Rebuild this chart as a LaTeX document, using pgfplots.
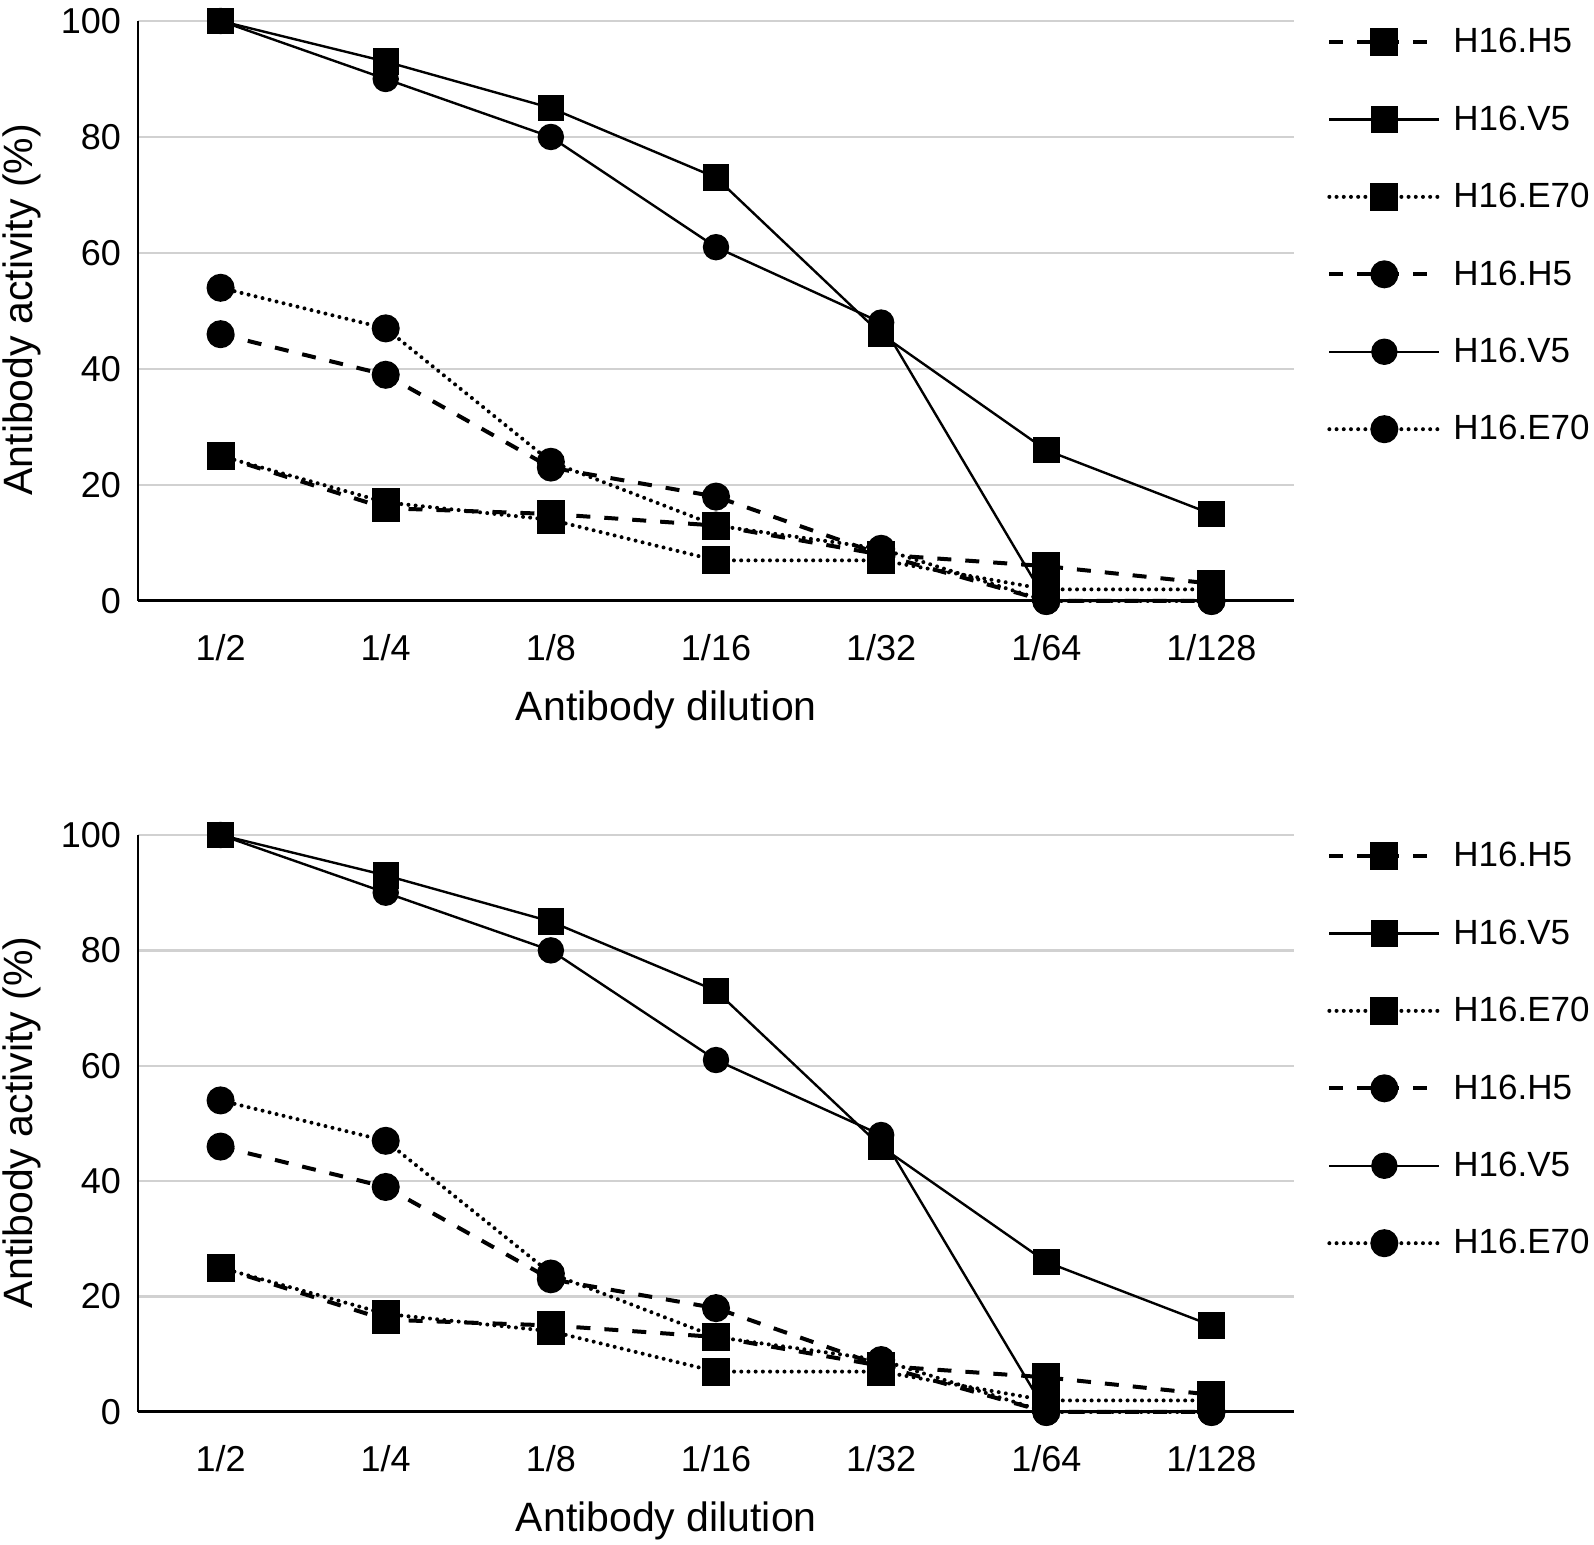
\documentclass[border=0pt]{standalone}
\usepackage{fontspec}
\setmainfont{Liberation Sans}
\usepackage{pgfplots}
\usepackage{pgfplotstable}
\pgfplotsset{compat=1.18}

\pgfplotstableread{
x sqH sqV sqE ciH ciV ciE
0 25 100 25 46 100 54
1 16 93 17 39 90 47
2 15 85 14 23 80 24
3 13 73 7 18 61 13
4 8 46 7 8 48 9
5 6 26 2 0 0 0
6 3 15 2 0 0 0
}\data

\pgfplotsset{
  panel/.style={
    scale only axis, width=578pt, height=290pt, anchor=south west,
    xmin=-0.5, xmax=6.5, ymin=0, ymax=100,
    xtick={0,...,6}, xticklabels={1/2,1/4,1/8,1/16,1/32,1/64,1/128},
    ytick={0,20,...,100},
    axis x line*=bottom, axis y line*=left,
    x axis line style={line width=1.5pt},
    y axis line style={line width=1pt},
    major tick length=0pt,
    ymajorgrids, major grid style={black!18, line width=1.2pt},
    clip=false,
    tick label style={font=\fontsize{18}{21}\selectfont},
    /pgf/number format/assume math mode=true,
    xticklabel style={yshift=-13pt},
    yticklabel style={xshift=-5pt},
    xlabel={Antibody dilution}, ylabel={Antibody activity (\%)},
    label style={font=\fontsize{20.5}{24}\selectfont},
    xlabel style={at={(axis description cs:0.457,-0.188)}, anchor=center},
    ylabel style={at={(axis description cs:-0.1003,0.502)}, anchor=center},
    legend style={draw=none, fill=none, inner sep=0pt,
      at={(axis description cs:1.0285,0.995)}, anchor=north west,
      font=\fontsize{17.5}{21}\selectfont, row sep=21pt, column sep=4pt},
    legend cell align=left,
    legend image code/.code={\draw[mark repeat=2,mark phase=2,##1] plot coordinates {(0pt,0pt)(27.5pt,0pt)(55pt,0pt)};},
  },
  dsh/.style={black, line width=2pt, dash pattern=on 7pt off 7pt},
  sld/.style={black, line width=1.2pt, solid},
  dtt/.style={black, line width=2pt, line cap=round, dash pattern=on 0pt off 3.6pt},
  sq/.style={mark=square*, mark size=6pt, mark options={solid, fill=black}},
  ci/.style={mark=*, mark size=6pt, mark options={solid, fill=black}},
}

\begin{document}
\begin{tikzpicture}
\useasboundingbox (0,0) rectangle (797pt,772.5pt);
\begin{axis}[panel, at={(69pt,472pt)}]
  \addplot[dsh, sq] table[x=x, y=sqH] {\data}; \addlegendentry{H16.H5}
  \addplot[sld, sq] table[x=x, y=sqV] {\data}; \addlegendentry{H16.V5}
  \addplot[dtt, sq] table[x=x, y=sqE] {\data}; \addlegendentry{H16.E70}
  \addplot[dsh, ci] table[x=x, y=ciH] {\data}; \addlegendentry{H16.H5}
  \addplot[sld, ci] table[x=x, y=ciV] {\data}; \addlegendentry{H16.V5}
  \addplot[dtt, ci] table[x=x, y=ciE] {\data}; \addlegendentry{H16.E70}
\end{axis}
\begin{axis}[panel, height=288.5pt, at={(69pt,66.5pt)}]
  \addplot[dsh, sq] table[x=x, y=sqH] {\data}; \addlegendentry{H16.H5}
  \addplot[sld, sq] table[x=x, y=sqV] {\data}; \addlegendentry{H16.V5}
  \addplot[dtt, sq] table[x=x, y=sqE] {\data}; \addlegendentry{H16.E70}
  \addplot[dsh, ci] table[x=x, y=ciH] {\data}; \addlegendentry{H16.H5}
  \addplot[sld, ci] table[x=x, y=ciV] {\data}; \addlegendentry{H16.V5}
  \addplot[dtt, ci] table[x=x, y=ciE] {\data}; \addlegendentry{H16.E70}
\end{axis}
\end{tikzpicture}
\end{document}
